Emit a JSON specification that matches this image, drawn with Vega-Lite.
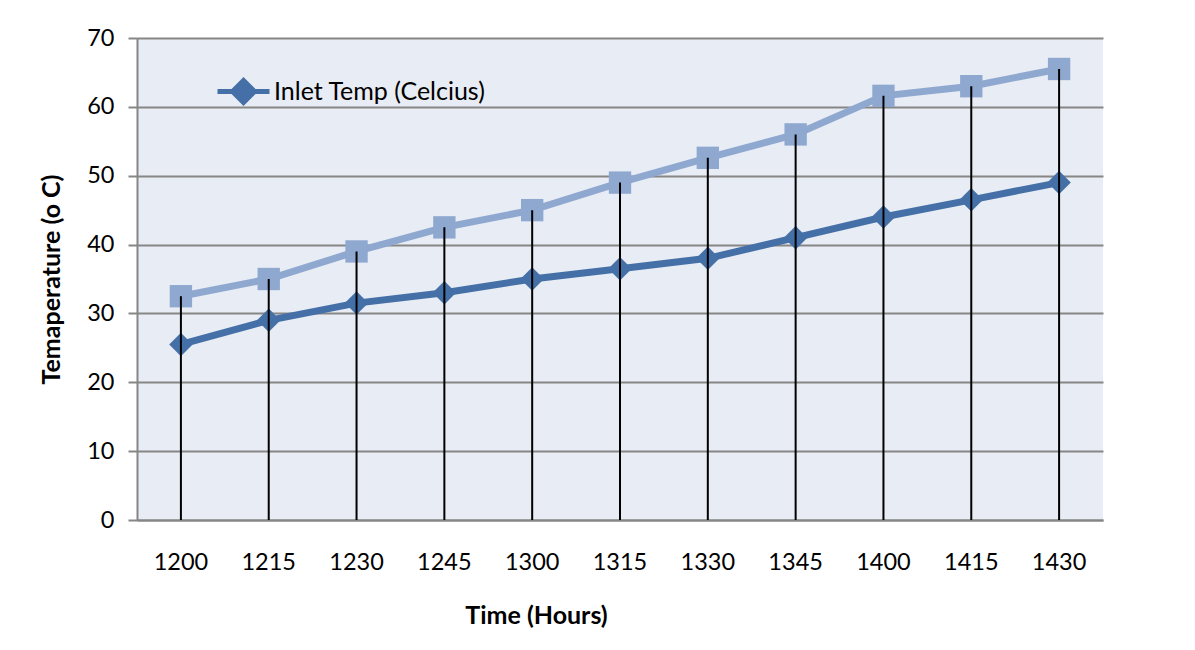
{
  "$schema": "https://vega.github.io/schema/vega-lite/v6.json",
  "autosize": {"type": "none"},
  "width": 966,
  "height": 482,
  "padding": {"left": 137, "top": 38, "right": 92, "bottom": 130},
  "background": "white",
  "config": {
    "font": "Lato",
    "view": {"stroke": null, "fill": "#E8ECF4"},
    "axis": {"labelFont": "Lato", "titleFont": "Lato", "labelFontSize": 23.5, "titleFontSize": 25, "labelColor": "#000000", "titleColor": "#000000", "titleFontWeight": "bold"}
  },
  "data": {
    "values": [
      {"time": "1200", "series": "Inlet Temp (Celcius)", "temp": 25.5},
      {"time": "1215", "series": "Inlet Temp (Celcius)", "temp": 29},
      {"time": "1230", "series": "Inlet Temp (Celcius)", "temp": 31.5},
      {"time": "1245", "series": "Inlet Temp (Celcius)", "temp": 33},
      {"time": "1300", "series": "Inlet Temp (Celcius)", "temp": 35},
      {"time": "1315", "series": "Inlet Temp (Celcius)", "temp": 36.5},
      {"time": "1330", "series": "Inlet Temp (Celcius)", "temp": 38},
      {"time": "1345", "series": "Inlet Temp (Celcius)", "temp": 41},
      {"time": "1400", "series": "Inlet Temp (Celcius)", "temp": 44},
      {"time": "1415", "series": "Inlet Temp (Celcius)", "temp": 46.5},
      {"time": "1430", "series": "Inlet Temp (Celcius)", "temp": 49},
      {"time": "1200", "series": "Outlet Temp (Celcius)", "temp": 32.5},
      {"time": "1215", "series": "Outlet Temp (Celcius)", "temp": 35},
      {"time": "1230", "series": "Outlet Temp (Celcius)", "temp": 39},
      {"time": "1245", "series": "Outlet Temp (Celcius)", "temp": 42.5},
      {"time": "1300", "series": "Outlet Temp (Celcius)", "temp": 45},
      {"time": "1315", "series": "Outlet Temp (Celcius)", "temp": 49},
      {"time": "1330", "series": "Outlet Temp (Celcius)", "temp": 52.6},
      {"time": "1345", "series": "Outlet Temp (Celcius)", "temp": 56},
      {"time": "1400", "series": "Outlet Temp (Celcius)", "temp": 61.6},
      {"time": "1415", "series": "Outlet Temp (Celcius)", "temp": 63},
      {"time": "1430", "series": "Outlet Temp (Celcius)", "temp": 65.5}
    ]
  },
  "encoding": {
    "x": {
      "field": "time", "type": "ordinal", "sort": null,
      "scale": {"type": "band", "paddingInner": 0, "paddingOuter": 0},
      "axis": {"title": "Time (Hours)", "labelAngle": 0, "ticks": false, "domainColor": "#868686", "domainWidth": 2, "grid": false, "labelPadding": 30, "titlePadding": 30, "titleX": 399, "titleAlign": "center"}
    },
    "y": {
      "field": "temp", "type": "quantitative",
      "scale": {"domain": [0, 70], "nice": false},
      "axis": {"title": "Temaperature (o C)", "values": [0, 10, 20, 30, 40, 50, 60, 70], "grid": true, "gridColor": "#868686", "gridWidth": 2, "domainColor": "#868686", "domainWidth": 2, "tickColor": "#868686", "tickWidth": 2, "tickSize": 9, "labelPadding": 14, "titlePadding": 22}
    }
  },
  "layer": [
    {
      "transform": [{"filter": "datum.series === 'Outlet Temp (Celcius)'"}],
      "mark": {"type": "line", "color": "#8FA8D0", "strokeWidth": 7},
      "encoding": {}
    },
    {
      "transform": [{"filter": "datum.series === 'Outlet Temp (Celcius)'"}],
      "mark": {"type": "point", "shape": "square", "filled": true, "size": 500, "color": "#8FA8D0", "opacity": 1},
      "encoding": {}
    },
    {
      "transform": [{"filter": "datum.series === 'Inlet Temp (Celcius)'"}],
      "mark": {"type": "line", "strokeWidth": 7},
      "encoding": {
        "color": {
          "field": "series", "type": "nominal",
          "scale": {"domain": ["Inlet Temp (Celcius)"], "range": ["#4570A7"]},
          "legend": {
            "title": null, "orient": "none", "legendX": 78, "legendY": 25,
            "symbolType": "M-1,0H1M0,-0.42L0.42,0L0,0.42L-0.42,0Z",
            "symbolSize": 2704, "symbolStrokeWidth": 5, "symbolFillColor": "#4570A7", "symbolStrokeColor": "#4570A7",
            "labelFontSize": 25, "labelFont": "Lato", "labelColor": "#000000", "labelOffset": 2, "labelLimit": 0
          }
        }
      }
    },
    {
      "transform": [{"filter": "datum.series === 'Inlet Temp (Celcius)'"}],
      "mark": {"type": "point", "shape": "diamond", "filled": true, "size": 550, "color": "#4570A7", "opacity": 1},
      "encoding": {}
    },
    {
      "transform": [{"filter": "datum.series === 'Outlet Temp (Celcius)'"}],
      "mark": {"type": "rule", "color": "#000000", "strokeWidth": 2},
      "encoding": {"y2": {"datum": 0}}
    }
  ]
}
